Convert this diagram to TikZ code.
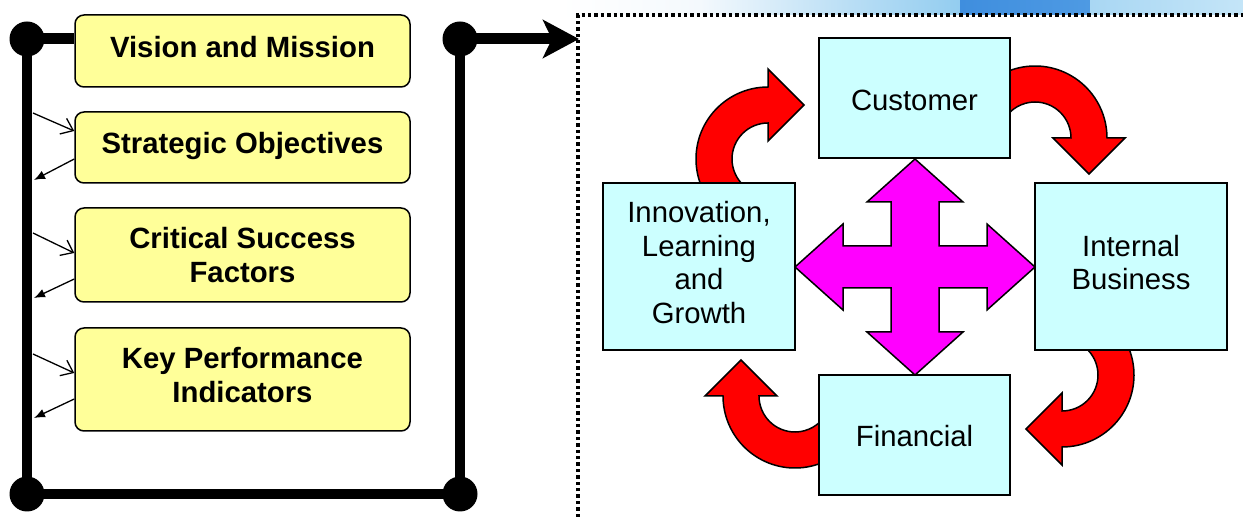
\documentclass[tikz,border=0pt]{standalone}
\usepackage{fontspec}
\setmainfont{Liberation Sans}
\usetikzlibrary{arrows.meta}
\definecolor{yboxc}{HTML}{FFFF99}
\definecolor{cboxc}{HTML}{CCFFFF}
\definecolor{magc}{HTML}{FF00FF}
\definecolor{redc}{HTML}{FF0000}
\definecolor{bandA}{HTML}{F4F9FD}
\definecolor{bandB}{HTML}{B9DEF5}
\definecolor{bandC}{HTML}{93CDF0}
\definecolor{bandD}{HTML}{3F8EDE}
\definecolor{bandE}{HTML}{4E9AE3}
\definecolor{bandF}{HTML}{A9D7F3}
\definecolor{bandG}{HTML}{C4E5F8}
\begin{document}
\begin{tikzpicture}[x=1pt,y=1pt,
  ybox/.style={draw=black, line width=1.5pt, fill=yboxc, rounded corners=9pt,
    minimum width=335pt, inner sep=0pt},
  ytext/.style={inner sep=0pt, align=center, font=\bfseries\fontsize{29.3}{34}\selectfont},
  cbox/.style={draw=black, line width=2pt, fill=cboxc, minimum width=191pt, inner sep=0pt},
  ctext/.style={inner sep=0pt, align=center, font=\fontsize{29.3}{33.8}\selectfont},
  bigdot/.style={circle, fill=black, minimum size=35pt, inner sep=0pt},
  heavy/.style={line width=10pt},
  inarrow/.style={line width=1.3pt, -{Straight Barb[length=11pt,width=17pt,line width=1.3pt]}},
  outarrow/.style={line width=1.3pt, -{Latex[length=11pt,width=9pt]}},
  redarrow/.style={draw=black, line width=1.5pt, fill=redc, line join=miter},
  crossarrow/.style={draw=black, line width=1.5pt, fill=magc, line join=miter}
]
\useasboundingbox (0,0) rectangle (1243,517);

% top background band
\shade[left color=white, right color=bandA] (560,500) rectangle (700,517);
\shade[left color=bandA, right color=bandB] (700,500) rectangle (850,517);
\shade[left color=bandB, right color=bandC] (850,500) rectangle (960,517);
\shade[left color=bandD, right color=bandE] (960,500) rectangle (1090,517);
\shade[left color=bandF, right color=bandG] (1090,500) rectangle (1243,517);
\fill[white] (578,0) rectangle (1243,502);

% ---------------- left panel ----------------
\node[bigdot] (d1) at (27,478) {};
\node[bigdot] (d2) at (460,478) {};
\node[bigdot] (d3) at (27,23) {};
\node[bigdot] (d4) at (460,23) {};

\node[ybox, minimum height=72pt] (vm) at (242.5,466) {};
\node[ybox, minimum height=71pt] (so) at (242.5,369.5) {};
\node[ybox, minimum height=94pt] (csf) at (242.5,262) {};
\node[ybox, minimum height=103pt] (kpi) at (242.5,137.5) {};
\node[ytext] (vmt) at ([yshift=4pt]vm.center) {Vision and Mission};
\node[ytext] (sot) at ([yshift=2pt]so.center) {Strategic Objectives};
\node[ytext] (csft) at ([yshift=0pt]csf.center) {Critical Success\\Factors};
\node[ytext] (kpit) at ([yshift=4pt]kpi.center) {Key Performance\\Indicators};

\draw[heavy] (d1.center) -- (d3.center) -- (d4.center) -- (d2.center);
\draw[line width=11pt] (d1.center) -- (d1.center -| vm.west);
\coordinate (frametip) at (579,478);
\draw[line width=11pt, -{Stealth[length=36pt,width=38pt,inset=9pt]}] (d2.center) -- (frametip);

% small arrows
\coordinate (soA) at (33,404);
\coordinate (soB) at (34,337);
\coordinate (csfA) at (33,284);
\coordinate (csfB) at (34,219);
\coordinate (kpiA) at (33,163);
\coordinate (kpiB) at (34,99);
\draw[inarrow] (soA) -- ([yshift=16.5pt]so.west);
\draw[outarrow] ([yshift=-11.5pt]so.west) -- (soB);
\draw[inarrow] (csfA) -- ([yshift=2pt]csf.west);
\draw[outarrow] ([yshift=-24pt]csf.west) -- (csfB);
\draw[inarrow] (kpiA) -- ([yshift=6.5pt]kpi.west);
\draw[outarrow] ([yshift=-19.5pt]kpi.west) -- (kpiB);

% ---------------- right panel ----------------
\draw[line width=3.6pt, dash pattern=on 3.4pt off 3pt] (578,0) -- (578,502) -- (1243,502);

% curved red arrows
\draw[redarrow] ([shift={(230:72)}]768,358) arc[start angle=230, end angle=90, radius=72]
  -- (768,448) -- (804,412) -- (768,376) -- (768,394)
  arc[start angle=90, end angle=230, radius=36] -- cycle;
\draw[redarrow] ([shift={(150:72)}]1035,379) arc[start angle=150, end angle=0, radius=72]
  -- (1125,379) -- (1089,343) -- (1053,379) -- (1071,379)
  arc[start angle=0, end angle=150, radius=36] -- cycle;
\draw[redarrow] ([shift={(50:72)}]1062,142) arc[start angle=50, end angle=-90, radius=72]
  -- (1062,52) -- (1026,88) -- (1062,124) -- (1062,106)
  arc[start angle=-90, end angle=50, radius=36] -- cycle;
\draw[redarrow] ([shift={(330:72)}]795,121) arc[start angle=330, end angle=180, radius=72]
  -- (705,121) -- (741,157) -- (777,121) -- (759,121)
  arc[start angle=180, end angle=330, radius=36] -- cycle;

\node[cbox, minimum height=120pt] (cust) at (914.5,419) {};
\node[cbox, minimum height=120pt] (fin) at (914.5,82) {};
\node[cbox, minimum width=192pt, minimum height=167pt] (inno) at (699,250.5) {};
\node[cbox, minimum width=192pt, minimum height=167pt] (intb) at (1131,250.5) {};
\node[ctext] (custt) at ([yshift=-2.5pt]cust.center) {Customer};
\node[ctext] (fint) at ([yshift=-1pt]fin.center) {Financial};
\node[ctext] (innot) at ([yshift=4pt]inno.center) {Innovation,\\Learning\\and\\Growth};
\node[ctext] (intbt) at ([yshift=4pt]intb.center) {Internal\\Business};

% four-headed arrow
\begin{scope}[shift={(915,250)}]
\draw[crossarrow] (0,108) -- (48,65) -- (24,65) -- (24,21) -- (72,21) -- (72,43)
  -- (120,0) -- (72,-43) -- (72,-21) -- (24,-21) -- (24,-65) -- (48,-65)
  -- (0,-108) -- (-48,-65) -- (-24,-65) -- (-24,-21) -- (-72,-21) -- (-72,-43)
  -- (-120,0) -- (-72,43) -- (-72,21) -- (-24,21) -- (-24,65) -- (-48,65) -- cycle;
\end{scope}
\end{tikzpicture}
\end{document}
